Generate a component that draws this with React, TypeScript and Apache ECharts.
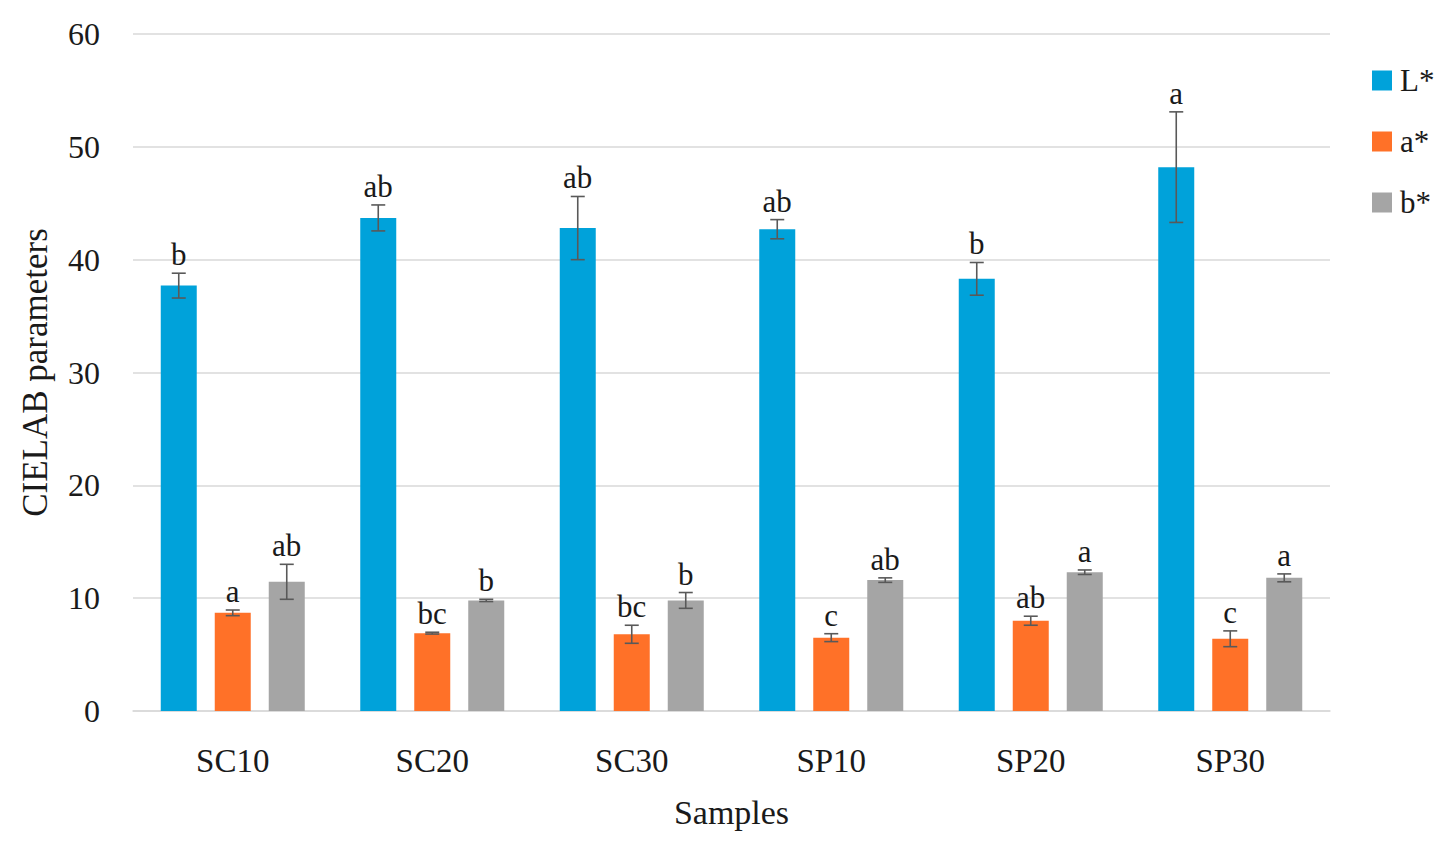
import * as echarts from 'echarts';
import React, { useEffect, useRef } from 'react';

const samples = ['SC10', 'SC20', 'SC30', 'SP10', 'SP20', 'SP30'];
const measures = ['L*', 'a*', 'b*'];
const colors = ['#00A2DA', '#FF7128', '#A5A5A5'];

const lValues = [37.7, 43.7, 42.8, 42.7, 38.3, 48.2];
const aValues = [8.7, 6.9, 6.8, 6.5, 8.0, 6.4];
const bValues = [11.45, 9.8, 9.8, 11.6, 12.3, 11.8];

const lErrors = [1.1, 1.15, 2.8, 0.85, 1.45, 4.9];
const aErrors = [0.25, 0.08, 0.8, 0.35, 0.4, 0.7];
const bErrors = [1.55, 0.1, 0.7, 0.2, 0.2, 0.35];

const lLetters = ['b', 'ab', 'ab', 'ab', 'b', 'a'];
const aLetters = ['a', 'bc', 'bc', 'c', 'ab', 'c'];
const bLetters = ['ab', 'b', 'b', 'ab', 'a', 'a'];

const yTicks = { min: 0, max: 60, interval: 10 };

const FONT = '"Liberation Serif", "DejaVu Serif", serif';
const BAR_WIDTH = 36;
const BAR_STEP = 54;

const App: React.FC = () => {
  const chartRef = useRef<HTMLDivElement>(null);

  useEffect(() => {
    document.body.style.margin = '0';
    if (!chartRef.current) return;
    const chart = echarts.init(chartRef.current, undefined, { renderer: 'svg' });

    const values = [lValues, aValues, bValues];
    const errors = [lErrors, aErrors, bErrors];
    const letters = [lLetters, aLetters, bLetters];

    const barSeries = measures.map((name, i) => ({
      name,
      type: 'bar' as const,
      data: values[i],
      barWidth: BAR_WIDTH,
      barGap: '50%',
      itemStyle: { color: colors[i] },
      z: 2,
    }));

    // error bars + significance letters, shifted onto each bar of the group
    const errorSeries = measures.map((name, i) => ({
      type: 'custom' as const,
      name: name + '-err',
      data: values[i].map((v, j) => [j, v, errors[i][j]]),
      z: 5,
      silent: true,
      renderItem: (params: any, api: any) => {
        const x = api.value(0);
        const m = api.value(1);
        const sd = api.value(2);
        const top = api.coord([x, m + sd]);
        const bot = api.coord([x, m - sd]);
        const cx = top[0] + (i - 1) * BAR_STEP;
        const lineStyle = { stroke: '#595959', lineWidth: 1.6 };
        return {
          type: 'group',
          children: [
            { type: 'line', shape: { x1: cx, y1: top[1], x2: cx, y2: bot[1] }, style: lineStyle },
            { type: 'line', shape: { x1: cx - 7, y1: top[1], x2: cx + 7, y2: top[1] }, style: lineStyle },
            { type: 'line', shape: { x1: cx - 7, y1: bot[1], x2: cx + 7, y2: bot[1] }, style: lineStyle },
            {
              type: 'text',
              style: {
                text: letters[i][params.dataIndex],
                x: cx,
                y: top[1] - 3,
                align: 'center',
                verticalAlign: 'bottom',
                fontSize: 31,
                fontFamily: FONT,
                fill: '#1a1a1a',
              },
            },
          ],
        };
      },
    }));

    chart.setOption({
      animation: false,
      grid: { left: 133, right: 121, top: 34, bottom: 145, containLabel: false },
      legend: {
        data: measures,
        orient: 'vertical',
        left: 1367,
        top: 60,
        itemWidth: 20,
        itemHeight: 20,
        itemGap: 30,
        icon: 'rect',
        textStyle: { fontSize: 31, fontFamily: FONT, color: '#1a1a1a', padding: [0, 0, 0, 3] },
      },
      xAxis: {
        type: 'category',
        data: samples,
        name: 'Samples',
        nameLocation: 'middle',
        nameGap: 84,
        nameTextStyle: { fontSize: 34, fontFamily: FONT, color: '#1a1a1a' },
        axisLine: { lineStyle: { color: '#D9D9D9', width: 1.5 } },
        axisTick: { show: false },
        axisLabel: { fontSize: 33, fontFamily: FONT, color: '#1a1a1a', margin: 33 },
      },
      yAxis: {
        type: 'value',
        min: yTicks.min,
        max: yTicks.max,
        interval: yTicks.interval,
        name: 'CIELAB parameters',
        nameLocation: 'middle',
        nameGap: 80,
        nameTextStyle: { fontSize: 35, fontFamily: FONT, color: '#1a1a1a' },
        axisLine: { show: false },
        axisTick: { show: false },
        axisLabel: { fontSize: 32, fontFamily: FONT, color: '#1a1a1a', margin: 33 },
        splitLine: { lineStyle: { color: '#D9D9D9', width: 1.5 } },
      },
      series: [...barSeries, ...errorSeries],
    });

    return () => {
      chart.dispose();
    };
  }, []);

  return <div ref={chartRef} style={{ width: 1451, height: 856 }} />;
};

export default App;
